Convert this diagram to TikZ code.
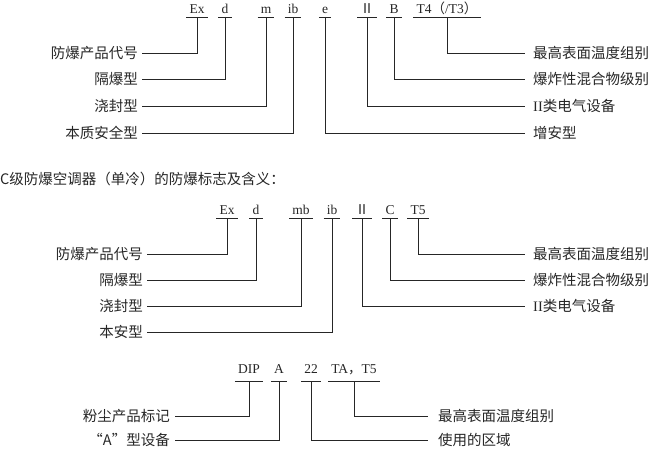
\documentclass[tikz,border=0pt]{standalone}
\usepackage{fontspec}
\setmainfont{Liberation Serif}
\newfontfamily\cjk{Noto Sans CJK SC}
\begin{document}
\begin{tikzpicture}[x=1pt,y=-1pt,
    code/.style={font=\fontsize{13.5}{15}\selectfont, text=black!85, inner xsep=3pt,
      inner ysep=0pt, text height=9pt, text depth=3pt, anchor=south},
    lab/.style={font=\cjk\fontsize{14.5}{16}\selectfont, text=black!85, inner ysep=0pt},
    lft/.style={lab, anchor=east, inner xsep=4pt},
    rgt/.style={lab, anchor=west, inner xsep=8pt},
    wire/.style={black!85, line width=0.7pt}]
    \useasboundingbox (0,0) rectangle (658,449);

    % Part 1: Ex d m ib e II B T4 (/T3)
    \foreach \n/\x/\t in {a1/197/Ex, a2/225/d, a3/266/m, a4/293/ib, a5/325/e,
        a6/367/{\cjk Ⅱ}, a7/394/B, a8/447/{T4{\cjk（}/T3{\cjk）}}}
      \node[code] (\n) at (\x,17) {\t};
    \foreach \n/\y/\t in {b1/53/防爆产品代号, b2/79/隔爆型, b3/106/浇封型, b4/133/本质安全型}
      \node[lft] (\n) at (142,\y) {\t};
    \foreach \n/\y/\t in {c1/53/最高表面温度组别, c2/79/爆炸性混合物级别,
        c3/106/{{\rmfamily II}类电气设备}, c4/133/增安型}
      \node[rgt] (\n) at (525,\y) {\t};

    \foreach \n in {a1,a2,a3,a4,a5,a6,a7,a8} \draw[wire] (\n.south west) -- (\n.south east);
    \foreach \a/\b in {a1/b1, a2/b2, a3/b3, a4/b4} \draw[wire] (\a.south) |- (\b.east);
    \foreach \a/\c in {a8/c1, a7/c2, a6/c3, a5/c4} \draw[wire] (\a.south) |- (\c.west);

    % Part 2: air conditioner
    \node[lab, anchor=west, inner xsep=0pt] (title) at (0,179) {C级防爆空调器（单冷）的防爆标志及含义：};
    \foreach \n/\x/\t in {d1/227/Ex, d2/256/d, d3/301/mb, d4/332/ib,
        d5/362/{\cjk Ⅱ}, d6/390/C, d7/418/T5}
      \node[code] (\n) at (\x,218) {\t};
    \foreach \n/\y/\t in {e1/254/防爆产品代号, e2/280/隔爆型, e3/306/浇封型, e4/332/本安型}
      \node[lft] (\n) at (147,\y) {\t};
    \foreach \n/\y/\t in {f1/254/最高表面温度组别, f2/280/爆炸性混合物级别,
        f3/306/{{\rmfamily II}类电气设备}}
      \node[rgt] (\n) at (525,\y) {\t};

    \foreach \n in {d1,d2,d3,d4,d5,d6,d7} \draw[wire] (\n.south west) -- (\n.south east);
    \foreach \a/\b in {d1/e1, d2/e2, d3/e3, d4/e4} \draw[wire] (\a.south) |- (\b.east);
    \foreach \a/\c in {d7/f1, d6/f2, d5/f3} \draw[wire] (\a.south) |- (\c.west);

    % Part 3: dust
    \foreach \n/\x/\t in {g1/249/DIP, g2/279/A, g3/311/22, g4/354/{TA{\cjk，}T5}}
      \node[code, text depth=7pt] (\n) at (\x,381) {\t};
    \node[lft, inner xsep=5pt] (h1) at (175,416) {粉尘产品标记};
    \node[lft, inner xsep=5pt] (h2) at (175,440) {“A”型设备};
    \node[rgt, inner xsep=10pt] (k1) at (428,416) {最高表面温度组别};
    \node[rgt, inner xsep=10pt] (k2) at (428,440) {使用的区域};

    \foreach \n in {g1,g2,g3,g4} \draw[wire] (\n.south west) -- (\n.south east);
    \draw[wire] (g1.south) |- (h1.east);
    \draw[wire] (g2.south) |- (h2.east);
    \draw[wire] (g4.south) |- (k1.west);
    \draw[wire] (g3.south) |- (k2.west);
\end{tikzpicture}
\end{document}
